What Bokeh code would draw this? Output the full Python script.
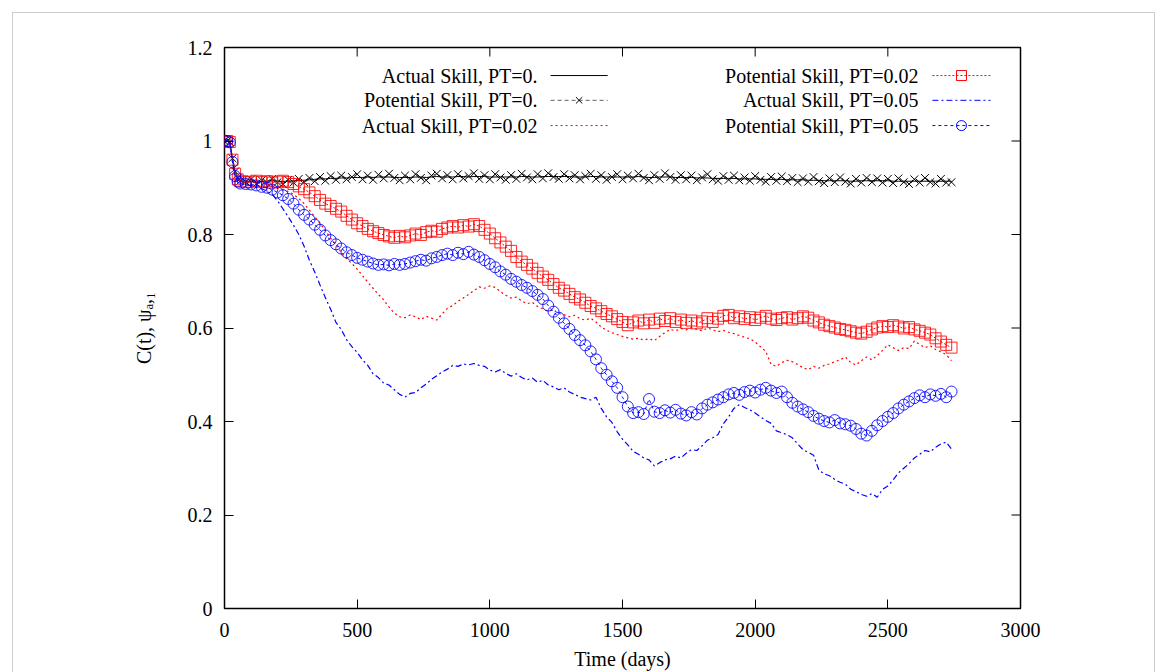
import math
from bokeh.plotting import figure
from bokeh.models import Range1d, FixedTicker
from bokeh.embed import file_html
from bokeh.resources import INLINE
from bokeh.core.properties import value

# ---------------- data ----------------
days = [0, 10, 20, 30, 40, 50, 60] + list(range(80, 2741, 20))

actual_pt0 = [1.0, 1.0, 0.998, 0.964, 0.936, 0.92, 0.914,
    0.914, 0.914, 0.913, 0.914, 0.914, 0.915, 0.914, 0.913, 0.914, 0.915,
    0.916, 0.916, 0.917, 0.918, 0.919, 0.919, 0.92, 0.92, 0.921, 0.921,
    0.922, 0.922, 0.922, 0.923, 0.922, 0.923, 0.923, 0.923, 0.922, 0.922,
    0.922, 0.922, 0.923, 0.923, 0.922, 0.923, 0.924, 0.923, 0.923, 0.923,
    0.924, 0.924, 0.923, 0.924, 0.924, 0.924, 0.923, 0.923, 0.923, 0.923,
    0.923, 0.923, 0.924, 0.924, 0.923, 0.923, 0.924, 0.924, 0.924, 0.924,
    0.924, 0.924, 0.923, 0.923, 0.923, 0.924, 0.924, 0.923, 0.923, 0.923,
    0.923, 0.923, 0.923, 0.923, 0.924, 0.923, 0.922, 0.922, 0.923, 0.923,
    0.923, 0.922, 0.922, 0.922, 0.922, 0.921, 0.921, 0.921, 0.92, 0.92,
    0.92, 0.92, 0.92, 0.919, 0.919, 0.919, 0.919, 0.918, 0.918, 0.918,
    0.918, 0.918, 0.917, 0.917, 0.917, 0.917, 0.916, 0.916, 0.916, 0.915,
    0.915, 0.915, 0.915, 0.915, 0.914, 0.914, 0.915, 0.915, 0.915, 0.915,
    0.915, 0.915, 0.914, 0.914, 0.914, 0.914, 0.914, 0.914, 0.914, 0.914,
    0.914, 0.914, 0.914, 0.914]

potential_pt0 = [1.0, 1.0, 0.998, 0.963, 0.935, 0.921, 0.915,
    0.913, 0.918, 0.909, 0.916, 0.911, 0.919, 0.912, 0.908, 0.917, 0.911,
    0.919, 0.912, 0.921, 0.914, 0.923, 0.915, 0.925, 0.917, 0.926, 0.918,
    0.923, 0.929, 0.918, 0.926, 0.917, 0.928, 0.92, 0.93, 0.921, 0.916,
    0.926, 0.918, 0.929, 0.921, 0.916, 0.926, 0.93, 0.92, 0.927, 0.918,
    0.929, 0.92, 0.925, 0.931, 0.919, 0.927, 0.918, 0.929, 0.922, 0.917,
    0.927, 0.919, 0.93, 0.922, 0.918, 0.929, 0.92, 0.931, 0.923, 0.919,
    0.929, 0.92, 0.927, 0.918, 0.925, 0.93, 0.919, 0.927, 0.917, 0.923,
    0.929, 0.918, 0.926, 0.92, 0.93, 0.921, 0.916, 0.927, 0.919, 0.931,
    0.923, 0.917, 0.927, 0.918, 0.926, 0.916, 0.922, 0.929, 0.918, 0.915,
    0.925, 0.917, 0.926, 0.916, 0.922, 0.915, 0.925, 0.917, 0.913, 0.923,
    0.915, 0.924, 0.914, 0.921, 0.912, 0.92, 0.913, 0.923, 0.914, 0.91,
    0.92, 0.912, 0.922, 0.913, 0.909, 0.919, 0.911, 0.921, 0.912, 0.92,
    0.911, 0.919, 0.91, 0.92, 0.912, 0.908, 0.918, 0.911, 0.921, 0.912,
    0.909, 0.919, 0.911, 0.912]

actual_pt002 = [1.0, 1.0, 0.998, 0.96, 0.93, 0.917, 0.913,
    0.911, 0.912, 0.91, 0.909, 0.907, 0.904, 0.9, 0.896, 0.892, 0.886,
    0.877, 0.866, 0.852, 0.838, 0.824, 0.808, 0.792, 0.778, 0.762, 0.748,
    0.738, 0.726, 0.712, 0.698, 0.685, 0.672, 0.66, 0.645, 0.632, 0.624,
    0.622, 0.628, 0.624, 0.618, 0.625, 0.621, 0.617, 0.63, 0.642, 0.648,
    0.657, 0.664, 0.672, 0.68, 0.688, 0.685, 0.69, 0.687, 0.678, 0.67,
    0.664, 0.666, 0.658, 0.652, 0.655, 0.646, 0.641, 0.636, 0.639, 0.631,
    0.628, 0.624, 0.627, 0.62, 0.617, 0.621, 0.613, 0.602, 0.595, 0.59,
    0.586, 0.582, 0.579, 0.576, 0.578, 0.574, 0.577, 0.573, 0.582, 0.59,
    0.597, 0.594, 0.599, 0.596, 0.601, 0.597, 0.594, 0.6, 0.596, 0.592,
    0.595, 0.591, 0.588, 0.584, 0.58, 0.577, 0.57, 0.56, 0.55, 0.522,
    0.518, 0.526, 0.531, 0.528, 0.522, 0.515, 0.511, 0.518, 0.514, 0.52,
    0.523, 0.528, 0.532, 0.538, 0.526, 0.521, 0.53, 0.538, 0.532, 0.541,
    0.552, 0.564, 0.558, 0.552, 0.558, 0.556, 0.572, 0.565, 0.558, 0.562,
    0.554, 0.549, 0.543, 0.53]

potential_pt002 = [1.0, 1.0, 0.998, 0.96, 0.93, 0.918, 0.914,
    0.912, 0.913, 0.915, 0.912, 0.914, 0.911, 0.913, 0.915, 0.912, 0.908,
    0.903, 0.897, 0.89, 0.882, 0.874, 0.866, 0.861, 0.855, 0.849, 0.84,
    0.832, 0.824, 0.818, 0.812, 0.807, 0.803, 0.799, 0.796, 0.793, 0.797,
    0.794, 0.798, 0.802, 0.799, 0.805, 0.808, 0.806, 0.812, 0.815, 0.818,
    0.815, 0.82, 0.817, 0.822, 0.818, 0.81, 0.802, 0.792, 0.783, 0.774,
    0.765, 0.752, 0.742, 0.735, 0.727, 0.718, 0.71, 0.703, 0.694, 0.686,
    0.68, 0.673, 0.666, 0.661, 0.654, 0.647, 0.642, 0.636, 0.63, 0.625,
    0.619, 0.613, 0.606, 0.612, 0.616, 0.61, 0.618, 0.611, 0.62, 0.615,
    0.621, 0.613, 0.618, 0.611, 0.616, 0.61, 0.614, 0.621, 0.613, 0.62,
    0.626, 0.628, 0.621, 0.625, 0.619, 0.623, 0.617, 0.622, 0.626, 0.62,
    0.617, 0.621, 0.623, 0.618, 0.621, 0.625, 0.622, 0.616, 0.612, 0.607,
    0.604, 0.601, 0.598, 0.596, 0.593, 0.59, 0.588, 0.592, 0.597, 0.601,
    0.604, 0.602, 0.606, 0.603, 0.599, 0.602, 0.597, 0.594, 0.59, 0.586,
    0.578, 0.571, 0.564, 0.558]

actual_pt005 = [1.0, 1.0, 0.997, 0.955, 0.925, 0.912, 0.908,
    0.906, 0.905, 0.902, 0.898, 0.893, 0.886, 0.872, 0.855, 0.838, 0.82,
    0.8, 0.775, 0.745, 0.72, 0.692, 0.665, 0.64, 0.612, 0.597, 0.575,
    0.56, 0.548, 0.532, 0.52, 0.502, 0.494, 0.482, 0.478, 0.468, 0.458,
    0.452, 0.46, 0.462, 0.472, 0.48, 0.49, 0.498, 0.506, 0.512, 0.52,
    0.518, 0.523, 0.521, 0.524, 0.52, 0.518, 0.51, 0.506, 0.511, 0.503,
    0.497, 0.502, 0.494, 0.489, 0.493, 0.484, 0.488, 0.478, 0.474, 0.468,
    0.472, 0.463, 0.458, 0.452, 0.449, 0.446, 0.452, 0.428, 0.41, 0.398,
    0.378, 0.362, 0.35, 0.336, 0.33, 0.322, 0.318, 0.305, 0.312, 0.318,
    0.32, 0.326, 0.322, 0.332, 0.34, 0.338, 0.348, 0.36, 0.365, 0.372,
    0.395, 0.41, 0.428, 0.436, 0.43, 0.425, 0.418, 0.41, 0.402, 0.396,
    0.38, 0.376, 0.372, 0.365, 0.352, 0.34, 0.334, 0.328, 0.296, 0.288,
    0.284, 0.276, 0.27, 0.266, 0.255, 0.25, 0.244, 0.24, 0.246, 0.238,
    0.255, 0.262, 0.275, 0.29, 0.3, 0.31, 0.322, 0.33, 0.338, 0.335,
    0.345, 0.352, 0.356, 0.341]

potential_pt005 = [1.0, 1.0, 0.997, 0.955, 0.925, 0.913, 0.909,
    0.908, 0.907, 0.905, 0.902, 0.9, 0.896, 0.89, 0.884, 0.876, 0.866,
    0.853, 0.842, 0.832, 0.821, 0.81, 0.798, 0.788, 0.779, 0.77, 0.762,
    0.756, 0.75, 0.746, 0.742, 0.738, 0.735, 0.736, 0.734, 0.737, 0.735,
    0.737, 0.74, 0.743, 0.746, 0.744, 0.749, 0.752, 0.756, 0.759, 0.756,
    0.761, 0.758, 0.763, 0.757, 0.752, 0.745, 0.737, 0.73, 0.721, 0.714,
    0.705, 0.699, 0.692, 0.686, 0.679, 0.671, 0.662, 0.648, 0.635, 0.622,
    0.61, 0.598, 0.585, 0.574, 0.563, 0.55, 0.533, 0.514, 0.5, 0.486,
    0.472, 0.452, 0.432, 0.418, 0.42, 0.416, 0.448, 0.421, 0.418, 0.424,
    0.419, 0.425, 0.417, 0.413, 0.42, 0.415, 0.428, 0.436, 0.441, 0.447,
    0.452, 0.458, 0.461, 0.457, 0.463, 0.466, 0.462, 0.468, 0.472, 0.466,
    0.461, 0.464, 0.452, 0.44, 0.432, 0.426, 0.42, 0.412, 0.406, 0.401,
    0.398, 0.403, 0.396, 0.394, 0.391, 0.384, 0.374, 0.37, 0.38, 0.392,
    0.401, 0.41, 0.418, 0.428, 0.436, 0.443, 0.45, 0.456, 0.452, 0.458,
    0.455, 0.459, 0.452, 0.464]

series_labels = ["Actual Skill, PT=0.", "Potential Skill, PT=0.",
                 "Actual Skill, PT=0.02", "Potential Skill, PT=0.02",
                 "Actual Skill, PT=0.05", "Potential Skill, PT=0.05"]
x_ticks = [0, 500, 1000, 1500, 2000, 2500, 3000]
y_ticks = [0, 0.2, 0.4, 0.6, 0.8, 1.0, 1.2]
y_tick_labels = ["0", "0.2", "0.4", "0.6", "0.8", "1", "1.2"]
x_title = "Time (days)"
y_title = "C(t), \u03c8\u2090,\u2081"

for s in (actual_pt0, potential_pt0, actual_pt002, potential_pt002, actual_pt005, potential_pt005):
    assert len(s) == len(days), len(s)

# ---------------- figure ----------------
FONT = "Liberation Serif"
FS = "20px"
TICK = 9

p = figure(width=1143, height=660, output_backend="svg", toolbar_location=None,
           x_range=Range1d(0, 3000), y_range=Range1d(0, 1.2),
           min_border_left=211, min_border_right=136, min_border_top=34, min_border_bottom=65,
           margin=(12, 0, 0, 12))
p.styles = {"border-top": "1px solid #cccccc", "border-left": "1px solid #cccccc",
            "border-right": "1px solid #cccccc"}
p.background_fill_color = "white"
p.border_fill_color = "white"
p.xgrid.visible = False
p.ygrid.visible = False
p.outline_line_color = "black"
p.outline_line_width = 1.5


def style_axis(ax, ticks):
    ax.ticker = FixedTicker(ticks=ticks)
    ax.axis_line_color = None
    ax.major_tick_in = TICK
    ax.major_tick_out = 0
    ax.minor_tick_line_color = None
    ax.major_tick_line_color = "black"
    ax.major_tick_line_width = 1
    ax.major_label_text_font = FONT
    ax.major_label_text_font_size = FS
    ax.major_label_text_color = "black"
    ax.axis_label_text_font = FONT
    ax.axis_label_text_font_size = FS
    ax.axis_label_text_font_style = "normal"
    ax.axis_label_text_color = "black"


style_axis(p.xaxis[0], x_ticks)
style_axis(p.yaxis[0], y_ticks)
p.yaxis[0].major_label_overrides = {t: l for t, l in zip(y_ticks, y_tick_labels)}
p.xaxis[0].axis_label = x_title
p.xaxis[0].major_label_standoff = 14
p.xaxis[0].axis_label_standoff = 8
p.yaxis[0].axis_label = y_title
p.yaxis[0].major_label_standoff = 12
p.yaxis[0].axis_label_standoff = 30

# mirrored inward ticks on the top and right edges
p.ray(x=x_ticks, y=[p.y_range.end] * len(x_ticks), length=TICK, length_units="screen",
      angle=-math.pi / 2, line_color="black", line_width=1)
p.ray(x=[p.x_range.end] * len(y_ticks), y=y_ticks, length=TICK, length_units="screen",
      angle=math.pi, line_color="black", line_width=1)

RED = "#ff0000"
BLUE = "#0000ff"

# series (gnuplot draw order)
p.line(days, actual_pt0, line_color="black", line_width=1)
p.line(days, potential_pt0, line_color="#606060", line_width=1, line_dash="4 3")
p.scatter(days, potential_pt0, marker="x", size=11, line_color="black", line_width=1)
p.line(days, actual_pt002, line_color=RED, line_width=1.2, line_dash="2 3")
p.line(days, potential_pt002, line_color=RED, line_width=1, line_dash="2 2")
p.scatter(days, potential_pt002, marker="square", size=11, line_color=RED, line_width=1,
          fill_color=None, line_alpha=0.85)
p.line(days, actual_pt005, line_color=BLUE, line_width=1.2, line_dash="6 3 2 3")
p.line(days, potential_pt005, line_color=BLUE, line_width=1, line_dash="3 3")
p.scatter(days, potential_pt005, marker="circle", size=11, line_color=BLUE, line_width=1,
          fill_color=None, line_alpha=0.85)

# ---------------- legend (gnuplot style: text right-aligned, sample on the right) ----------------
col_text_x = [1180, 2616]
col_line_x = [(1229, 1444), (2668, 2887)]
row_y = [1.140, 1.087, 1.033]
styles = [
    dict(color="black", dash="solid", marker=None),
    dict(color="#606060", dash="4 3", marker="x", mcolor="black"),
    dict(color=RED, dash="2 3", marker=None),
    dict(color=RED, dash="2 2", marker="square", mcolor=RED),
    dict(color=BLUE, dash="6 3 2 3", marker=None),
    dict(color=BLUE, dash="3 3", marker="circle", mcolor=BLUE),
]
for i, (lab, st) in enumerate(zip(series_labels, styles)):
    c, r = divmod(i, 3)
    y = row_y[r]
    p.text(x=[col_text_x[c]], y=[y], text=[lab], text_align="right", text_baseline="middle",
           text_font=value(FONT), text_font_size=FS, text_color="black")
    x0, x1 = col_line_x[c]
    p.line([x0, x1], [y, y], line_color=st["color"], line_width=1, line_dash=st["dash"])
    if st["marker"]:
        p.scatter([(x0 + x1) / 2], [y], marker=st["marker"], size=10 if st["marker"] != "x" else 9,
                  line_color=st["mcolor"], fill_color=None, line_width=1)

open("out.html", "w").write(file_html(p, INLINE))
